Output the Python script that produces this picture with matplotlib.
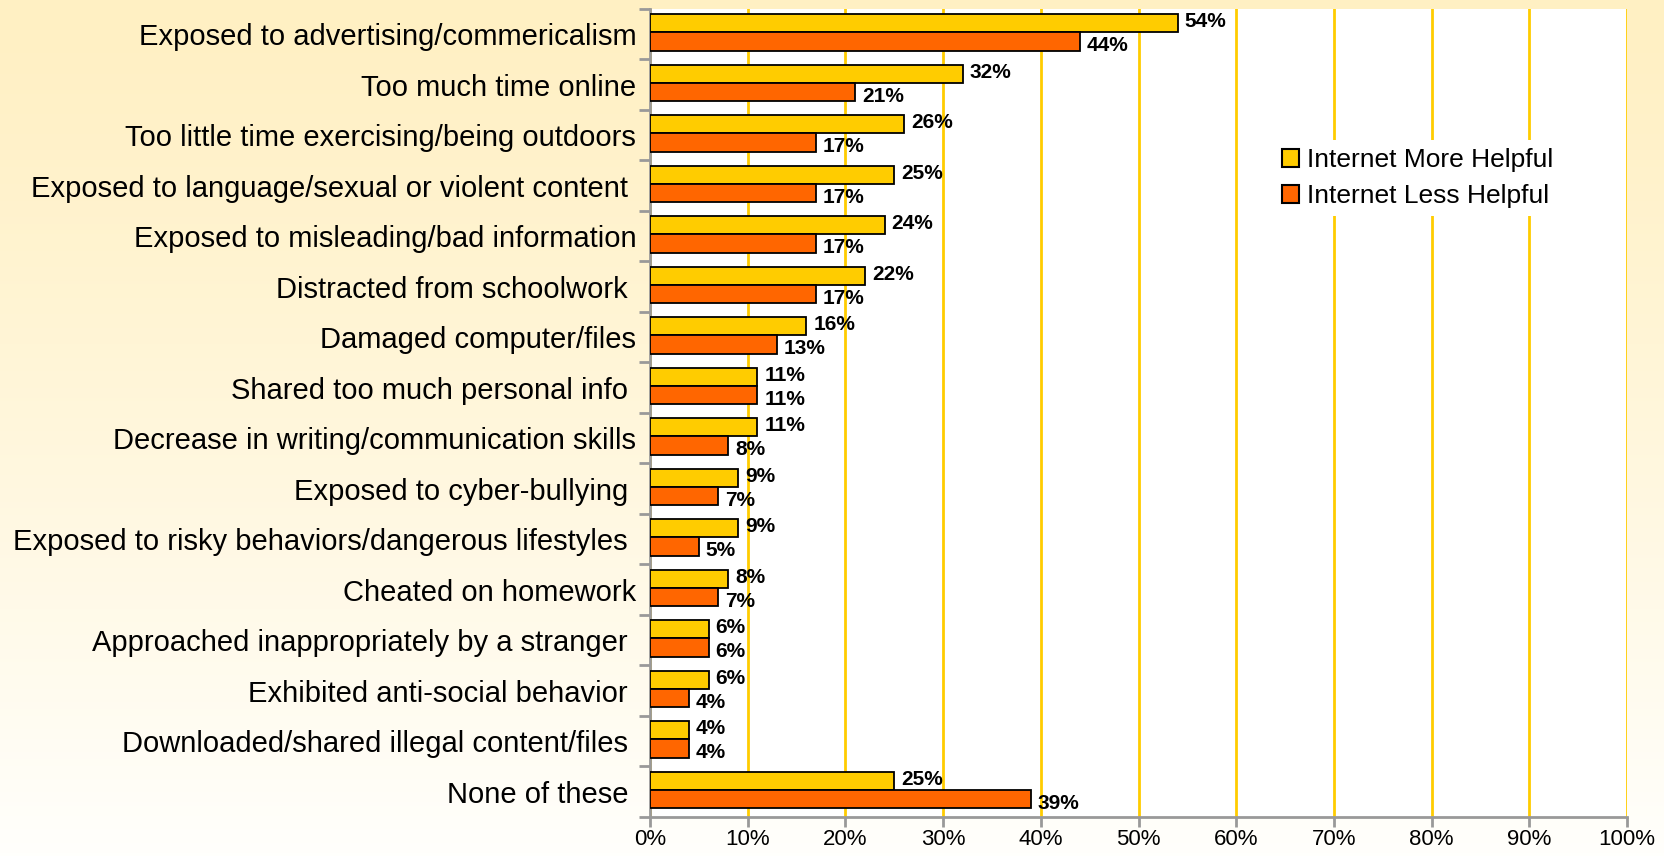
import numpy as np
import matplotlib.pyplot as plt
from matplotlib.patches import Patch

# -------------------------------
# Data
# -------------------------------
categories = [
    "Exposed to advertising/commericalism",
    "Too much time online",
    "Too little time exercising/being outdoors",
    "Exposed to language/sexual or violent content ",
    "Exposed to misleading/bad information",
    "Distracted from schoolwork ",
    "Damaged computer/files",
    "Shared too much personal info ",
    "Decrease in writing/communication skills",
    "Exposed to cyber-bullying ",
    "Exposed to risky behaviors/dangerous lifestyles ",
    "Cheated on homework",
    "Approached inappropriately by a stranger ",
    "Exhibited anti-social behavior ",
    "Downloaded/shared illegal content/files ",
    "None of these ",
]
more_helpful = [54, 32, 26, 25, 24, 22, 16, 11, 11, 9, 9, 8, 6, 6, 4, 25]
less_helpful = [44, 21, 17, 17, 17, 17, 13, 11, 8, 7, 5, 7, 6, 4, 4, 39]
x_ticks = list(range(0, 101, 10))

# -------------------------------
# Style
# -------------------------------
MORE_COLOR = "#FFCC00"
LESS_COLOR = "#FF6600"
GRID_COLOR = "#FFCC00"
AXIS_COLOR = "#999999"
FONT = ["Liberation Sans", "DejaVu Sans"]

plt.rcParams["font.family"] = FONT

fig = plt.figure(figsize=(16.65, 8.56), dpi=100)

# background gradient (cream at top fading to white)
bg = fig.add_axes([0, 0, 1, 1], zorder=-10)
top = np.array([255, 240, 195]) / 255
bottom = np.array([255, 255, 252]) / 255
t = np.linspace(0, 1, 256)[:, None] ** 1.2
grad = top * (1 - t) + bottom * t
bg.imshow(grad[:, None, :].repeat(2, axis=1), aspect="auto", extent=[0, 1, 0, 1])
bg.axis("off")

ax = fig.add_axes([0.3904, 0.0456, 0.5868, 0.9439])
ax.set_facecolor("white")

y = np.arange(len(categories))
h = 0.36
shift = -0.035

ax.barh(y + shift - h / 2, more_helpful, height=h, color=MORE_COLOR,
        edgecolor="black", linewidth=1.3, zorder=3)
ax.barh(y + shift + h / 2, less_helpful, height=h, color=LESS_COLOR,
        edgecolor="black", linewidth=1.3, zorder=3)

for i in range(len(categories)):
    ax.annotate(f"{more_helpful[i]}%", (more_helpful[i], y[i] + shift - h / 2),
                xytext=(5, 1), textcoords="offset points", va="center",
                ha="left", fontsize=15, fontweight="bold", zorder=4)
    ax.annotate(f"{less_helpful[i]}%", (less_helpful[i], y[i] + shift + h / 2),
                xytext=(5, -3), textcoords="offset points", va="center",
                ha="left", fontsize=15, fontweight="bold", zorder=4)

ax.set_xlim(0, 100)
ax.set_ylim(len(categories) - 0.5, -0.5)

ax.set_xticks(x_ticks)
ax.set_xticklabels([f"{v}%" for v in x_ticks], fontsize=16)
ax.set_yticks(y)
ax.set_yticklabels(categories, fontsize=21)
ax.set_yticks(np.arange(len(categories) + 1) - 0.5, minor=True)

ax.tick_params(axis="y", which="major", length=0, pad=10)
ax.tick_params(axis="y", which="minor", length=8, width=2, color=AXIS_COLOR)
ax.tick_params(axis="x", length=7, width=2, color=AXIS_COLOR, pad=2)

ax.xaxis.grid(True, color=GRID_COLOR, linewidth=2, zorder=1)
ax.set_axisbelow(True)

for side in ["top", "right"]:
    ax.spines[side].set_visible(False)
for side in ["left", "bottom"]:
    ax.spines[side].set_color(AXIS_COLOR)
    ax.spines[side].set_linewidth(2)

handles = [
    Patch(facecolor=MORE_COLOR, edgecolor="black", linewidth=1.5, label="Internet More Helpful"),
    Patch(facecolor=LESS_COLOR, edgecolor="black", linewidth=1.5, label="Internet Less Helpful"),
]
leg = ax.legend(handles=handles, loc="upper left",
                bbox_to_anchor=(1261 / 1665, 1 - 127 / 856),
                bbox_transform=fig.transFigure, fontsize=19,
                frameon=True, facecolor="white", edgecolor="none", framealpha=1,
                fancybox=False, handlelength=0.65, handleheight=0.65,
                handletextpad=0.3, labelspacing=0.45, borderpad=0.3)
leg.set_zorder(5)

fig.savefig("out.png", dpi=100)
